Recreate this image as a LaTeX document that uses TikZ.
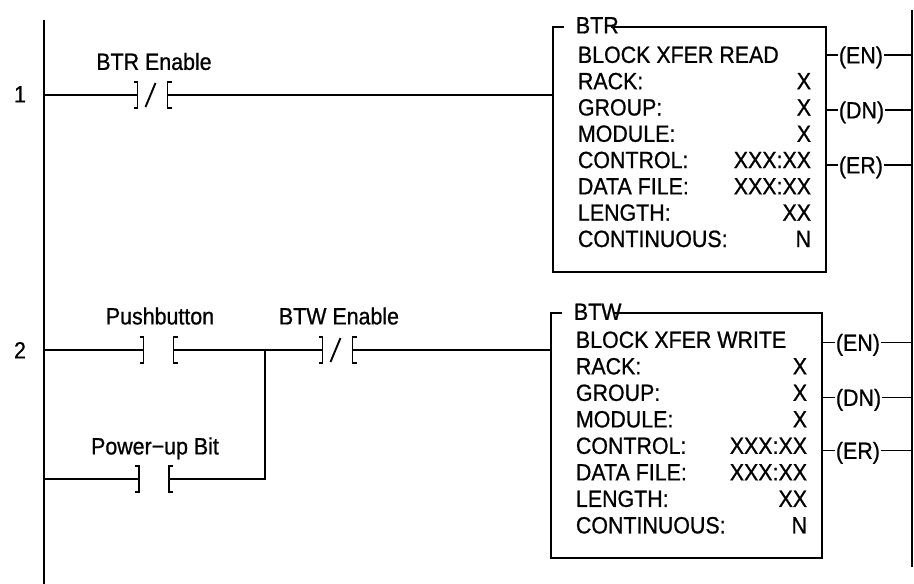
\documentclass[tikz,border=0pt]{standalone}
\usepackage{fontspec}
\setmainfont{Liberation Sans}[FakeBold=0.8,FakeStretch=0.91]
\begin{document}
\begin{tikzpicture}[x=1pt,y=-1pt,line width=1.9pt,
  lbl/.style={font=\fontsize{23.5}{28}\selectfont, inner sep=0pt, text height=16.8pt, text depth=0pt},
  box/.style={draw=none, inner sep=0pt, minimum width=#1},
  nocontact/.pic={
    \draw (-19,-13) -- (-15,-13) -- (-15,13) -- (-19,13);
    \draw (19,-13) -- (15,-13) -- (15,13) -- (19,13);
    \coordinate (-l) at (-15,0);
    \coordinate (-r) at (15,0);
  },
  nccontact/.pic={
    \draw (-19,-13) -- (-15,-13) -- (-15,13) -- (-19,13);
    \draw (19,-13) -- (15,-13) -- (15,13) -- (19,13);
    \draw (-7,12) -- (3,-12);
    \coordinate (-l) at (-15,0);
    \coordinate (-r) at (15,0);
  }]
\useasboundingbox (0,0) rectangle (914,584);

% rails
\coordinate (lt) at (44,20);
\coordinate (lb) at (44,584);
\coordinate (rt) at (912,10);
\coordinate (rb) at (912,567);
\draw (lt) -- (lb);
\draw (rt) -- (rb);

% rung numbers
\node[lbl] (n1) at (20,94) {1};
\node[lbl] (n2) at (20,350) {2};

% contacts
\pic (c1) at (152.5,95) {nccontact};
\pic (c2) at (158.5,350) {nocontact};
\pic (c3) at (337.5,350) {nccontact};
\pic (c4) at (154,479) {nocontact};

% contact labels
\node[lbl] (l1) at (154,61.5) {BTR Enable};
\node[lbl] (l2) at (160,316) {Pushbutton};
\node[lbl] (l3) at (339,316) {BTW Enable};
\node[lbl] (l4) at (155,446) {Power−up Bit};

% blocks
\node[box=271pt, minimum height=243pt] (btr) at (689.5,149.5) {};
\node[box=269pt, minimum height=243pt] (btw) at (686.5,435.5) {};
\draw ([xshift=11pt]btr.north west) -- (btr.north west) -- (btr.south west)
  -- (btr.south east) -- (btr.north east) -- ([xshift=58pt]btr.north west);
\draw ([xshift=11pt]btw.north west) -- (btw.north west) -- (btw.south west)
  -- (btw.south east) -- (btw.north east) -- ([xshift=63pt]btw.north west);
\node[lbl, anchor=west] (btrt) at (575,25) {BTR};
\node[lbl, anchor=west] (btwt) at (573,311.5) {BTW};

\node[lbl, anchor=west] (btr0) at (577,54.5) {BLOCK XFER READ};
\foreach \t/\v [count=\i] in {RACK:/X, GROUP:/X, MODULE:/X, CONTROL:/XXX:XX,
    DATA FILE:/XXX:XX, LENGTH:/XX, CONTINUOUS:/N} {
  \node[lbl, anchor=west] (btrk\i) at (577,54.5+26.3*\i) {\t};
  \node[lbl, anchor=east] (btrv\i) at (812,54.5+26.3*\i) {\v};
}
\node[lbl, anchor=west] (btw0) at (575,339.5) {BLOCK XFER WRITE};
\foreach \t/\v [count=\i] in {RACK:/X, GROUP:/X, MODULE:/X, CONTROL:/XXX:XX,
    DATA FILE:/XXX:XX, LENGTH:/XX, CONTINUOUS:/N} {
  \node[lbl, anchor=west] (btwk\i) at (575,339.5+26.5*\i) {\t};
  \node[lbl, anchor=east] (btwv\i) at (808,339.5+26.5*\i) {\v};
}

% coils
\node[lbl, anchor=west] (en1) at (838,55) {(EN)};
\node[lbl, anchor=west] (dn1) at (838,110) {(DN)};
\node[lbl, anchor=west] (er1) at (838,165) {(ER)};
\node[lbl, anchor=west] (en2) at (835,342.5) {(EN)};
\node[lbl, anchor=west] (dn2) at (835,397.5) {(DN)};
\node[lbl, anchor=west] (er2) at (835,450.5) {(ER)};
\foreach \c/\b in {en1/btr, dn1/btr, er1/btr, en2/btw, dn2/btw, er2/btw} {
  \draw (\b.east |- \c.west) -- (\c.west);
  \draw (\c.east) -- (rt |- \c.east);
}

% rung 1 wiring
\draw (lt |- c1-l) -- (c1-l);
\draw (c1-r) -- (btr.west |- c1-r);

% rung 2 wiring
\coordinate (j) at (265,350);
\coordinate (jb) at (265,479);
\draw (lt |- c2-l) -- (c2-l);
\draw (c2-r) -- (j) -- (c3-l);
\draw (c3-r) -- (btw.west |- c3-r);
\draw (lt |- c4-l) -- (c4-l);
\draw (c4-r) -- (jb) -- (j);
\end{tikzpicture}
\end{document}
